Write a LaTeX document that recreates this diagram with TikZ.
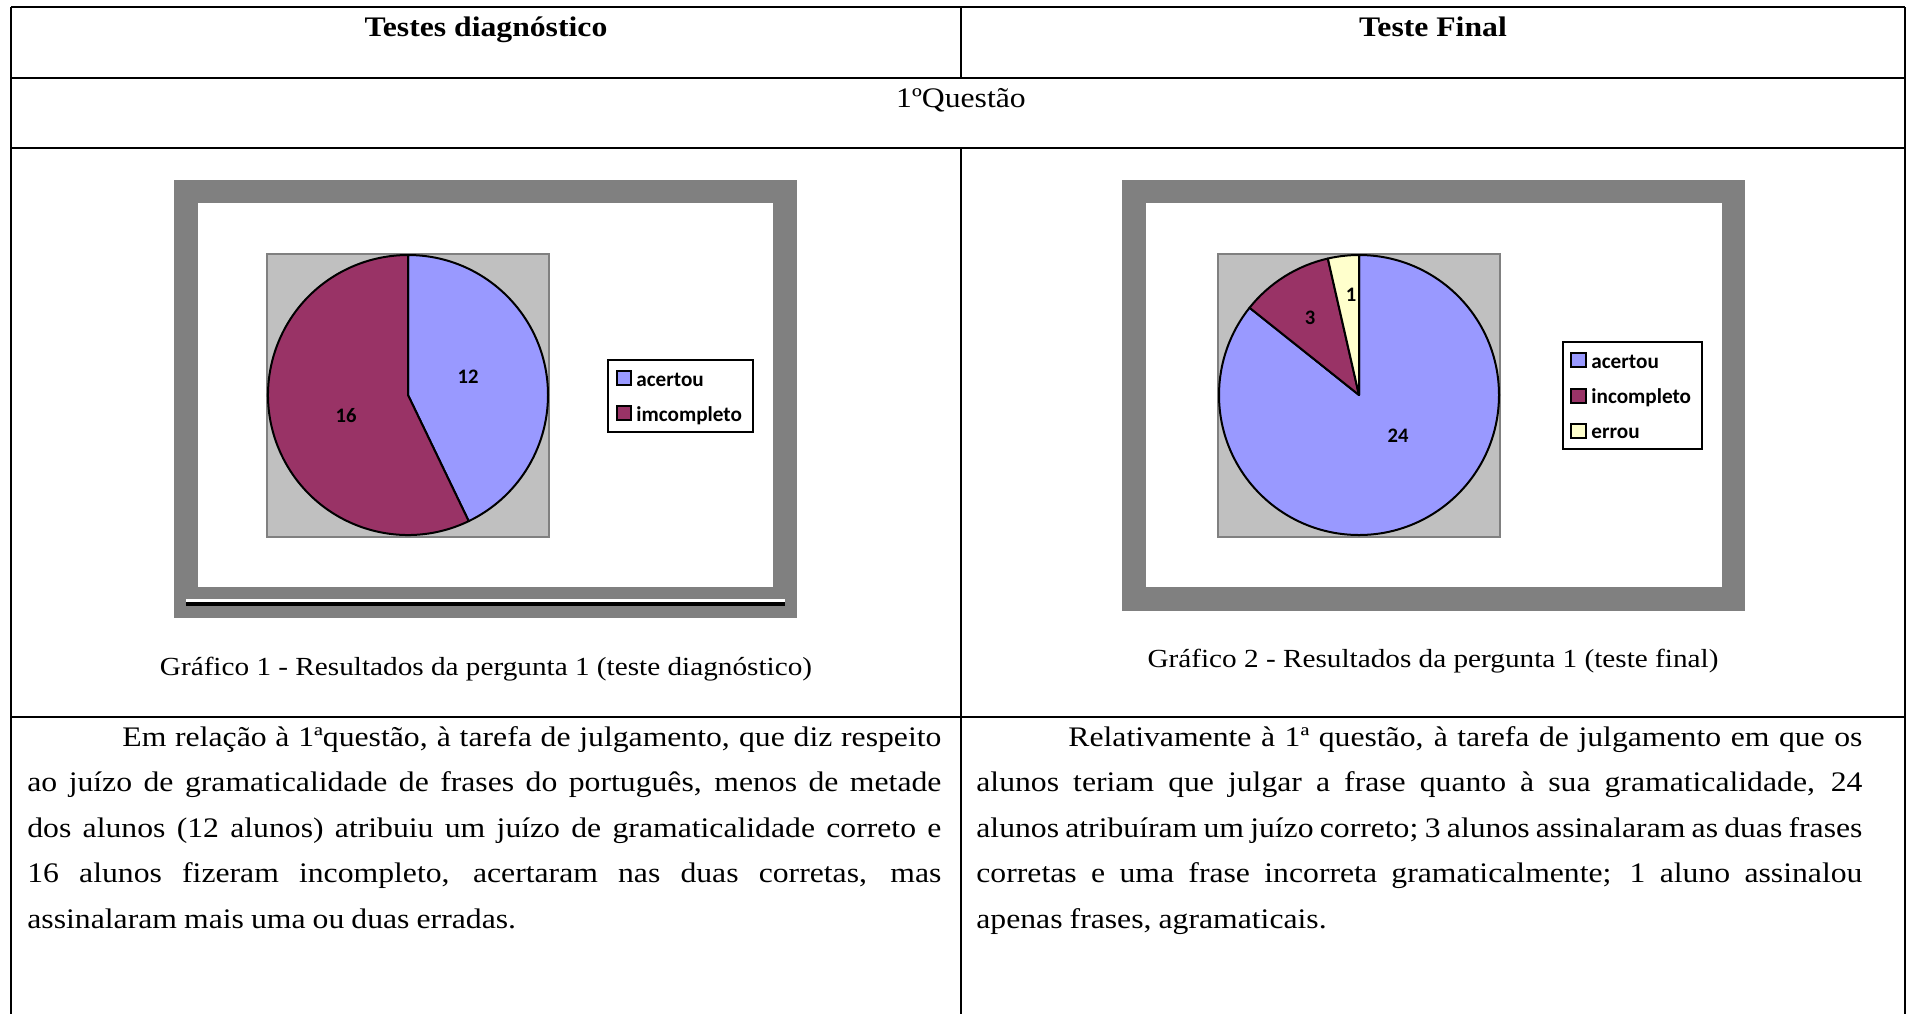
\documentclass[tikz,border=0pt]{standalone}
\usepackage{fontspec}
\setmainfont{Liberation Serif}[FakeStretch=1.12]
\newfontfamily\chartfont{Carlito}
\definecolor{pieblue}{HTML}{9999FF}
\definecolor{piepurple}{HTML}{993366}
\definecolor{pieyellow}{HTML}{FFFFCC}
\definecolor{plotgray}{HTML}{C0C0C0}
\definecolor{framegray}{HTML}{808080}
\newcommand{\bodysize}{\fontsize{14.15pt}{22.75pt}\selectfont}
\newcommand{\capsize}{\fontsize{13.05pt}{15pt}\selectfont}
\begin{document}
\begin{tikzpicture}[x=0.5pt,y=-0.5pt,
  tline/.style={line width=1pt},
  slice/.style={draw=black,line width=1pt,line join=round},
  plotarea/.style={fill=plotgray,draw=framegray,line width=0.8pt},
  legbox/.style={fill=white,draw=black,line width=1pt},
  swatch/.style={draw=black,line width=0.8pt},
  legtext/.style={anchor=base west,inner sep=0pt,font=\chartfont\bfseries\fontsize{10.6pt}{12pt}\selectfont},
  pielabel/.style={inner sep=0pt,font=\chartfont\bfseries\fontsize{10.3pt}{12pt}\selectfont},
  header/.style={anchor=base,inner sep=0pt,font=\bodysize\bfseries},
  caption/.style={anchor=base,inner sep=0pt,font=\capsize},
  para/.style={anchor=base west,inner sep=0pt,text width=457pt,align=justify,font=\bodysize,
    execute at begin node={\spaceskip=0.25em plus 0.6em minus 0.1em}}]
\useasboundingbox (0,0) rectangle (1908,1014);
% ---------- table rules ----------
\draw[tline] (11,7) -- (1905,7);
\draw[tline] (11,78) -- (1905,78);
\draw[tline] (11,148) -- (1905,148);
\draw[tline] (11,717) -- (1905,717);
\draw[tline] (11,7) -- (11,1014);
\draw[tline] (1905,7) -- (1905,1014);
\draw[tline] (961,7) -- (961,78);
\draw[tline] (961,148) -- (961,1014);
% ---------- headers ----------
\node[header] (h1) at (486,36) {Testes diagnóstico};
\node[header] (h2) at (1433,36) {Teste Final};
\node[anchor=base,inner sep=0pt,font=\bodysize] (q1) at (961,107) {1ºQuestão};
% ---------- left chart ----------
\fill[framegray] (174,180) rectangle (797,618);
\fill[white] (198,203) rectangle (773,587);
\draw[white,line width=1.35pt] (186,600.3) -- (785,600.3);
\draw[black,line width=2.15pt] (186,603.8) -- (785,603.8);
\draw[plotarea] (267,254) rectangle (549,537);
\filldraw[slice,fill=pieblue] (408,395) -- ++(-90:140) arc[start angle=-90,end angle=64.29,radius=140] -- cycle;
\filldraw[slice,fill=piepurple] (408,395) -- ++(64.29:140) arc[start angle=64.29,end angle=270,radius=140] -- cycle;
\node[pielabel] (l12) at (468,377) {12};
\node[pielabel] (l16) at (346,416) {16};
\draw[legbox] (608,360) rectangle (753,432);
\filldraw[swatch,fill=pieblue] (617,371) rectangle (631,385);
\filldraw[swatch,fill=piepurple] (617,406) rectangle (631,420);
\node[legtext] (la) at (636,386) {acertou};
\node[legtext] (li) at (636,421) {imcompleto};
\node[caption] (c1) at (486,675.5) {Gráfico 1 - Resultados da pergunta 1 (teste diagnóstico)};
% ---------- right chart ----------
\fill[framegray] (1122,180) rectangle (1745,611);
\fill[white] (1146,203) rectangle (1722,587);
\draw[plotarea] (1218,254) rectangle (1500,537);
\filldraw[slice,fill=pieblue] (1359,395) -- ++(-90:140) arc[start angle=-90,end angle=218.57,radius=140] -- cycle;
\filldraw[slice,fill=piepurple] (1359,395) -- ++(218.57:140) arc[start angle=218.57,end angle=257.14,radius=140] -- cycle;
\filldraw[slice,fill=pieyellow] (1359,395) -- ++(257.14:140) arc[start angle=257.14,end angle=270,radius=140] -- cycle;
\node[pielabel] (r1) at (1351,295) {1};
\node[pielabel] (r3) at (1310,318) {3};
\node[pielabel] (r24) at (1398,436) {24};
\draw[legbox] (1563,342) rectangle (1702,449);
\filldraw[swatch,fill=pieblue] (1571,353) rectangle (1586,367);
\filldraw[swatch,fill=piepurple] (1571,389) rectangle (1586,403);
\filldraw[swatch,fill=pieyellow] (1571,424) rectangle (1586,438);
\node[legtext] (ra) at (1591,368) {acertou};
\node[legtext] (ri) at (1591,403) {incompleto};
\node[legtext] (re) at (1591,438) {errou};
\node[caption] (c2) at (1433,667.5) {Gráfico 2 - Resultados da pergunta 1 (teste final)};
% ---------- paragraphs ----------
\node[para] (p1) at (27,746) {\hspace*{47.5pt}Em relação à 1ªquestão, à tarefa de julgamento, que diz respeito\linebreak ao juízo de gramaticalidade de frases do português, menos de metade\linebreak dos alunos (12 alunos) atribuiu um juízo de gramaticalidade correto e\linebreak 16 alunos fizeram incompleto, acertaram nas duas corretas, mas\linebreak assinalaram mais uma ou duas erradas.};
\node[para,text width=443pt] (p2) at (976,746) {\hspace*{46pt}Relativamente à 1ª questão, à tarefa de julgamento em que os\linebreak alunos teriam que julgar a frase quanto à sua gramaticalidade, 24\linebreak alunos atribuíram um juízo correto; 3 alunos assinalaram as duas frases\linebreak corretas e uma frase incorreta gramaticalmente; 1 aluno assinalou\linebreak apenas frases, agramaticais.};
\end{tikzpicture}
\end{document}
